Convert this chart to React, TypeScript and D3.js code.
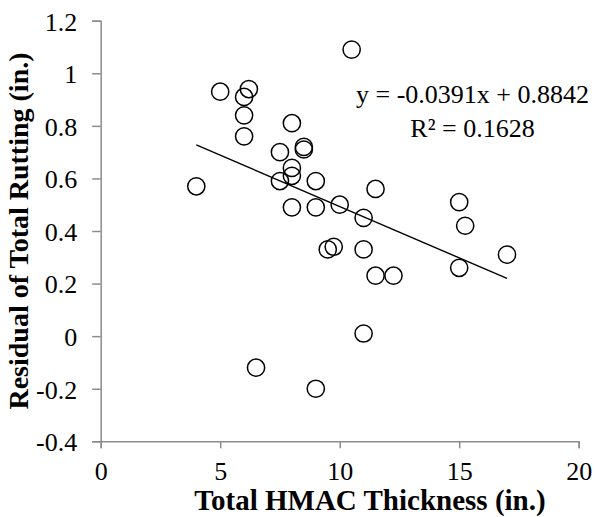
import * as d3 from 'd3';
import React, { useEffect, useRef } from 'react';

// values
const thickness = [4, 5, 6, 6, 6, 6.2, 6.5, 7.5, 7.5, 8, 8, 8, 8, 8.5, 8.5, 9, 9, 9, 9.5, 9.75, 10, 10.5, 11, 11, 11, 11.5, 11.5, 12.25, 15, 15, 15.25, 17];
const residual = [0.57, 0.93, 0.91, 0.84, 0.76, 0.94, -0.12, 0.7, 0.59, 0.81, 0.64, 0.61, 0.49, 0.72, 0.71, 0.59, 0.49, -0.2, 0.33, 0.34, 0.5, 1.09, 0.45, 0.33, 0.01, 0.56, 0.23, 0.23, 0.51, 0.26, 0.42, 0.31];
const xTicks = [0, 5, 10, 15, 20];
const yTicks = [-0.4, -0.2, 0, 0.2, 0.4, 0.6, 0.8, 1, 1.2];
const slope = -0.0391;
const intercept = 0.8842;
const equationLines = ['y = -0.0391x + 0.8842', 'R² = 0.1628'];

const W = 595;
const H = 517;
const FONT = 'Liberation Serif, Times New Roman, serif';
const AXIS = '#8c8c8c';

function App() {
  const svgRef = useRef<SVGSVGElement>(null);

  useEffect(() => {
    const svg = d3.select(svgRef.current);
    svg.selectAll('*').remove();

    const x = d3.scaleLinear().domain([0, 20]).range([100.7, 578.7]);
    const y = d3.scaleLinear().domain([-0.4, 1.2]).range([441.3, 20.7]);

    // y axis
    const yAxis = d3
      .axisLeft(y)
      .tickValues(yTicks)
      .tickSize(8.5)
      .tickPadding(15)
      .tickFormat(d => String(+(+d).toFixed(1)));
    const gy = svg.append('g').attr('transform', `translate(${x(0)},0)`).call(yAxis);

    // x axis
    const xAxis = d3.axisBottom(x).tickValues(xTicks).tickSize(7).tickPadding(13);
    const gx = svg.append('g').attr('transform', `translate(0,${y(-0.4)})`).call(xAxis);

    [gx, gy].forEach(g => {
      g.attr('font-family', FONT).attr('font-size', 26);
      g.select('.domain').attr('stroke', AXIS).attr('stroke-width', 1.5);
      g.selectAll('.tick line').attr('stroke', AXIS).attr('stroke-width', 1.5);
      g.selectAll('.tick text').attr('fill', '#000');
    });
    gy.selectAll('.tick text').attr('dy', '0.36em');
    gx.selectAll('.tick text').attr('dy', '0.72em');

    // trendline
    const [x0, x1] = d3.extent(thickness) as [number, number];
    const trend = d3
      .line<number>()
      .x(d => x(d))
      .y(d => y(slope * d + intercept));
    svg
      .append('path')
      .attr('d', trend([x0, x1]))
      .attr('fill', 'none')
      .attr('stroke', '#000')
      .attr('stroke-width', 1.4);

    // points
    svg
      .append('g')
      .selectAll('circle')
      .data(thickness.map((t, i) => [t, residual[i]]))
      .join('circle')
      .attr('cx', d => x(d[0]))
      .attr('cy', d => y(d[1]))
      .attr('r', 8.6)
      .attr('fill', 'none')
      .attr('stroke', '#000')
      .attr('stroke-width', 1.5);

    // equation
    svg
      .append('g')
      .attr('font-family', FONT)
      .attr('font-size', 26)
      .selectAll('text')
      .data(equationLines)
      .join('text')
      .attr('x', 472.5)
      .attr('y', (d, i) => 103 + i * 33.5)
      .attr('text-anchor', 'middle')
      .text(d => d);

    // axis titles
    svg
      .append('text')
      .attr('x', 370)
      .attr('y', 510)
      .attr('text-anchor', 'middle')
      .attr('font-family', FONT)
      .attr('font-size', 29)
      .attr('font-weight', 'bold')
      .text('Total HMAC Thickness (in.)');

    svg
      .append('text')
      .attr('transform', `translate(28,${(y(-0.4) + y(1.2)) / 2}) rotate(-90)`)
      .attr('text-anchor', 'middle')
      .attr('font-family', FONT)
      .attr('font-size', 28)
      .attr('font-weight', 'bold')
      .text('Residual of Total Rutting (in.)');
  }, []);

  return (
    <svg
      ref={svgRef}
      width={W}
      height={H}
      style={{ position: 'absolute', left: 0, top: 0, background: '#fff' }}
    />
  );
}

export default App;
